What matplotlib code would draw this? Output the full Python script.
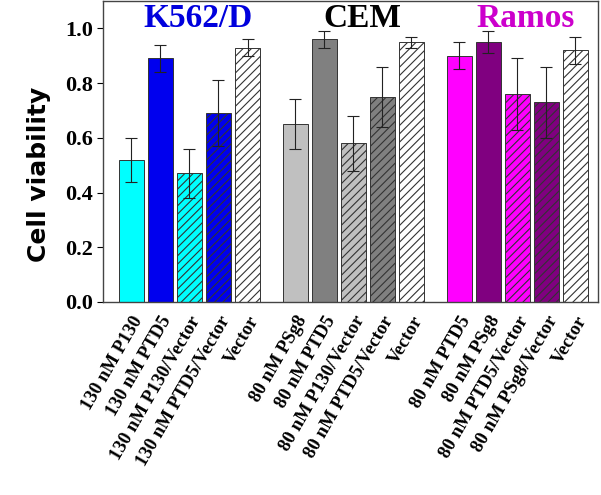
import matplotlib
matplotlib.use("Agg")
import matplotlib.pyplot as plt
import numpy as np

# data
groups = ["K562/D", "CEM", "Ramos"]
group_colors = ["#0000DD", "#000000", "#CC00CC"]

k562_vals = [0.52, 0.89, 0.47, 0.69, 0.93]
k562_err = [0.08, 0.05, 0.09, 0.12, 0.03]
cem_vals = [0.65, 0.96, 0.58, 0.75, 0.95]
cem_err = [0.09, 0.03, 0.10, 0.11, 0.02]
ramos_vals = [0.90, 0.95, 0.76, 0.73, 0.92]
ramos_err = [0.05, 0.04, 0.13, 0.13, 0.05]

k562_labels = ["130 nM P130", "130 nM PTD5", "130 nM P130/Vector",
               "130 nM PTD5/Vector", "Vector"]
cem_labels = ["80 nM PSg8", "80 nM PTD5", "80 nM P130/Vector",
              "80 nM PTD5/Vector", "Vector"]
ramos_labels = ["80 nM PTD5", "80 nM PSg8", "80 nM PTD5/Vector",
                "80 nM PSg8/Vector", "Vector"]

k562_cols = ["#00FFFF", "#0000EE", "#00FFFF", "#0000EE", "#FFFFFF"]
cem_cols = ["#C0C0C0", "#808080", "#C0C0C0", "#808080", "#FFFFFF"]
ramos_cols = ["#FF00FF", "#800080", "#FF00FF", "#800080", "#FFFFFF"]
hatches = [None, None, "////", "////", "////"]

plt.rcParams["hatch.linewidth"] = 0.8

fig = plt.figure(figsize=(6.01, 4.95), dpi=100)
ax = fig.add_axes([0.1714, 0.39, 0.8236, 0.608])

centers = [0, 5.65, 11.3]
offs = np.arange(-2, 3)
all_x = []
all_lab = []
serif = ["Liberation Serif", "DejaVu Serif"]

for c, vals, errs, cols, labs in zip(centers,
                                      [k562_vals, cem_vals, ramos_vals],
                                      [k562_err, cem_err, ramos_err],
                                      [k562_cols, cem_cols, ramos_cols],
                                      [k562_labels, cem_labels, ramos_labels]):
    xs = c + offs
    for x, v, e, col, h in zip(xs, vals, errs, cols, hatches):
        ax.bar(x, v, width=0.86, color=col, edgecolor="#333333",
               linewidth=0.7, hatch=h)
        ax.errorbar(x, v, yerr=e, color="#222222", elinewidth=0.8,
                    capsize=4, capthick=0.8)
    all_x.extend(xs)
    all_lab.extend(labs)

for c, g, gc in zip(centers, groups, group_colors):
    ax.text(c + 0.3, 1.035, g, ha="center", va="center", fontsize=24,
            fontweight="bold", color=gc, family=serif)

ax.set_xlim(-2.98, 14.08)
ax.set_ylim(0, 1.1)
ax.set_yticks([0.0, 0.2, 0.4, 0.6, 0.8, 1.0])
ax.set_yticklabels(["0.0", "0.2", "0.4", "0.6", "0.8", "1.0"],
                   fontsize=16, fontweight="bold", family=serif)
ax.set_xticks(all_x)
ax.set_xticklabels(all_lab, rotation=60, ha="right", rotation_mode="anchor",
                   fontsize=13.5, fontweight="bold", family=serif)
ax.tick_params(axis="x", which="major", length=0, pad=8)
ax.set_xticks(centers, minor=True)
ax.tick_params(axis="x", which="minor", length=4, direction="out")
ax.tick_params(axis="y", length=4, direction="out", pad=3)

ax.set_ylabel("Cell viability", fontsize=18, fontweight="heavy",
              family=["DejaVu Sans"])
ax.yaxis.set_label_coords(-0.105, 0.425)

for s in ax.spines.values():
    s.set_color("#444444")
    s.set_linewidth(1.0)

fig.savefig("out.png", dpi=100)
